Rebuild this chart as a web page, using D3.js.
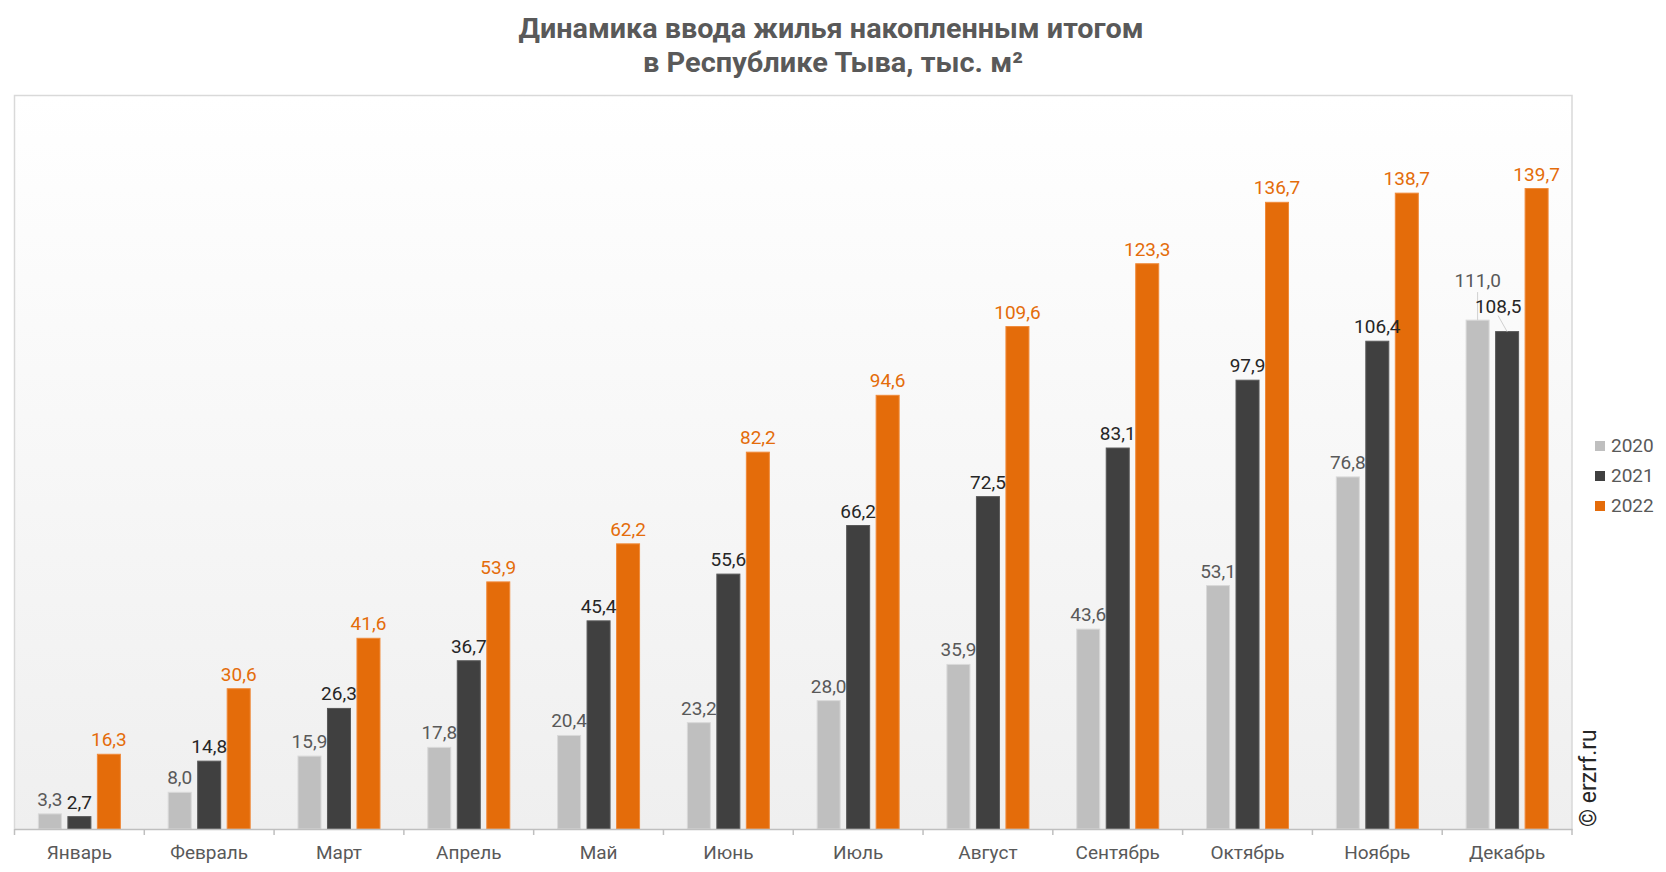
<!DOCTYPE html>
<html><head><meta charset="utf-8">
<script src="https://cdn.jsdelivr.net/npm/d3@7"></script>
<style>body{margin:0;background:#fff;}svg{display:block;font-family:Roboto,"Noto Sans",sans-serif;}</style>
</head><body>
<svg id="c" width="1666" height="872"></svg>
<script>
const months = ["Январь","Февраль","Март","Апрель","Май","Июнь","Июль","Август","Сентябрь","Октябрь","Ноябрь","Декабрь"];
const seriesNames = ["2020","2021","2022"];
const v2020 = [3.3,8.0,15.9,17.8,20.4,23.2,28.0,35.9,43.6,53.1,76.8,111.0];
const v2021 = [2.7,14.8,26.3,36.7,45.4,55.6,66.2,72.5,83.1,97.9,106.4,108.5];
const v2022 = [16.3,30.6,41.6,53.9,62.2,82.2,94.6,109.6,123.3,136.7,138.7,139.7];
const titleLines = ["Динамика ввода жилья накопленным итогом","в Республике Тыва, тыс. м²"];

const series = [v2020, v2021, v2022];
const fills = ["#bfbfbf","#404040","#e46c0a"];
const strokes = ["#d9d9d9","#595959","#f08a3a"];
const labelColors = ["#595959","#262626","#e46c0a"];

const svg = d3.select("#c");
const L = 14.5, R = 1572, T = 95.5, B = 829;

const defs = svg.append("defs");
const g = defs.append("linearGradient").attr("id","bg").attr("x1",0).attr("y1",0).attr("x2",0).attr("y2",1);
g.append("stop").attr("offset","0%").attr("stop-color","#ffffff");
g.append("stop").attr("offset","100%").attr("stop-color","#efefef");

svg.append("rect").attr("x",L).attr("y",T).attr("width",R-L).attr("height",B-T).attr("fill","url(#bg)");
svg.append("path").attr("d",`M${L},${B}V${T}H${R}V${B}`).attr("fill","none").attr("stroke","#d9d9d9").attr("stroke-width",1.5);

const x0 = d3.scaleBand().domain(months).range([L, R]).padding(0);
const x1 = d3.scaleBand().domain(seriesNames).range([-41, 41]).paddingInner(0.22).paddingOuter(0);
const y = d3.scaleLinear().domain([0,160]).range([B, T]);

const groups = svg.append("g").selectAll("g").data(months).join("g")
  .attr("transform", d => `translate(${x0(d)+x0.bandwidth()/2},0)`);

seriesNames.forEach((s, si) => {
  groups.append("rect")
    .attr("x", x1(s)).attr("width", x1.bandwidth())
    .attr("y", (d,i) => y(series[si][i])).attr("height", (d,i) => B - y(series[si][i]))
    .attr("fill", fills[si]).attr("stroke", strokes[si]).attr("stroke-width",1);
});

const fmt = v => d3.format(".1f")(v).replace(".", ",");
const lastIdx = months.length - 1;
seriesNames.forEach((s, si) => {
  groups.each(function(d, i){
    const gg = d3.select(this);
    const v = series[si][i];
    const cx = x1(s) + x1.bandwidth()/2;
    let lx = cx, ly = y(v) - 8;
    if (i === lastIdx && si === 0) { lx = cx; ly = y(v) - 33; 
      gg.append("line").attr("x1",cx).attr("y1",ly+5).attr("x2",cx).attr("y2",y(v)).attr("stroke","#d0d0d0").attr("stroke-width",1);
    }
    if (i === lastIdx && si === 1) { lx = cx - 9; ly = y(v) - 19;
      gg.append("line").attr("x1",lx).attr("y1",ly+3).attr("x2",cx).attr("y2",y(v)).attr("stroke","#d0d0d0").attr("stroke-width",1);
    }
    gg.append("text").attr("x",lx).attr("y",ly).attr("text-anchor","middle")
      .attr("font-size",19).attr("fill",labelColors[si]).text(fmt(v));
  });
});

// x axis
const xAxis = d3.axisBottom(x0).tickSize(0).tickPadding(0);
const ax = svg.append("g").attr("transform",`translate(0,${B})`).call(xAxis);
ax.select(".domain").attr("stroke","#bfbfbf").attr("stroke-width",1.5);
ax.selectAll(".tick text").attr("font-size",19).attr("fill","#595959").attr("dy",0).attr("y",30).attr("font-family","Roboto");
svg.append("g").selectAll("line").data(d3.range(months.length+1)).join("line")
  .attr("x1", i => L + i*x0.step()).attr("x2", i => L + i*x0.step())
  .attr("y1", B).attr("y2", B+6).attr("stroke","#bfbfbf").attr("stroke-width",1.5);

// title
const tl = svg.append("g").attr("font-weight","bold").attr("fill","#595959").attr("font-size",28).attr("text-anchor","middle");
tl.append("text").attr("x",831).attr("y",38).attr("textLength",625).attr("lengthAdjust","spacingAndGlyphs").text(titleLines[0]);
tl.append("text").attr("x",833).attr("y",72).attr("textLength",380).attr("lengthAdjust","spacingAndGlyphs").text(titleLines[1]);

// legend
const lg = svg.append("g").attr("transform","translate(1595,441)");
seriesNames.forEach((s, si) => {
  lg.append("rect").attr("x",0).attr("y",si*30).attr("width",10).attr("height",10).attr("fill",fills[si]);
  lg.append("text").attr("x",16).attr("y",si*30+11).attr("font-size",19).attr("fill","#595959").text(s);
});

// watermark
svg.append("text").attr("transform","translate(1596,827) rotate(-90)").attr("font-size",23).attr("fill","#262626").text("© erzrf.ru");
</script>
</body></html>
